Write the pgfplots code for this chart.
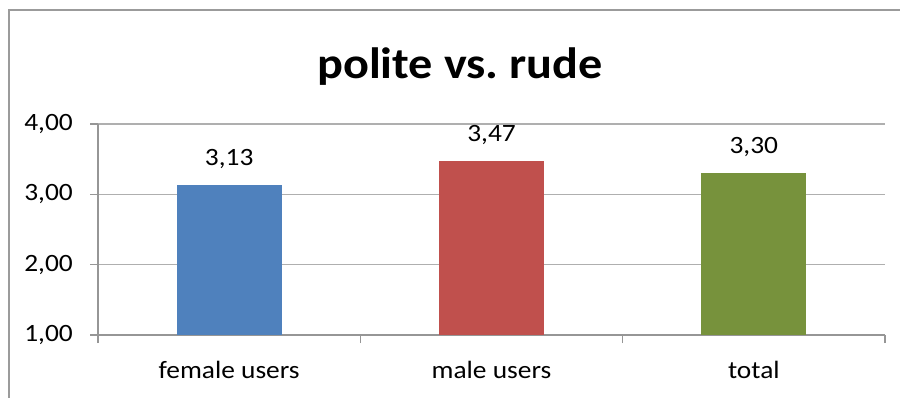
\documentclass[border=0pt]{standalone}
\usepackage{fontspec}
\setmainfont{Carlito}[FakeStretch=1.1]
\usepackage{pgfplots}
\pgfplotsset{compat=1.18}

\definecolor{barblue}{RGB}{79,129,189}
\definecolor{barred}{RGB}{192,80,77}
\definecolor{bargreen}{RGB}{119,146,60}
\definecolor{framegray}{RGB}{155,155,155}
\definecolor{axisgray}{RGB}{150,150,150}
\definecolor{gridgray}{RGB}{175,175,175}

\begin{document}
\begin{tikzpicture}[x=1bp,y=1bp]
\useasboundingbox (0,0) rectangle (900,397);
% chart frame
\begin{scope}
  \clip (0,0) rectangle (900,397);
  \draw[line width=2bp, framegray] (8.5,-50) -- (8.5,386.5) -- (950,386.5);
\end{scope}
% title
\node[font=\fontsize{44}{52}\selectfont\bfseries, anchor=base, inner sep=0pt]
  at (460,319) {polite vs.\ rude};
\begin{axis}[
  at={(98bp,62bp)}, anchor=south west,
  scale only axis, width=787bp, height=211bp,
  xmin=-0.5, xmax=2.5, ymin=1, ymax=4,
  axis x line*=bottom, axis y line*=left,
  axis line style={axisgray, line width=1.5bp},
  ybar=0pt, bar width=105bp, bar shift=0pt,
  ytick={1,2,3,4},
  xtick={-0.5,0.5,1.5,2.5}, xticklabels={},
  extra x ticks={0,1,2},
  extra x tick labels={female users, male users, total},
  extra x tick style={major tick length=0pt, grid=none},
  tick align=outside, major tick length=8bp,
  tick style={axisgray, line width=1.5bp},
  ymajorgrids, grid style={gridgray, line width=1.5bp},
  tick label style={font=\fontsize{25}{30}\selectfont, text=black},
  yticklabel style={inner sep=0pt, xshift=-17bp,
    /pgf/number format/.cd, fixed, fixed zerofill, precision=2, use comma, assume math mode=true},
  xticklabel style={anchor=base, inner sep=0pt, yshift=-43bp},
  nodes near coords,
  nodes near coords style={font=\fontsize{25}{30}\selectfont, anchor=base, yshift=20bp, inner sep=0pt,
    /pgf/number format/.cd, fixed, fixed zerofill, precision=2, use comma, assume math mode=true},
  point meta=y,
  clip=false,
]
\addplot[fill=barblue, draw=none] coordinates {(0,3.13)};
\addplot[fill=barred, draw=none] coordinates {(1,3.47)};
\addplot[fill=bargreen, draw=none] coordinates {(2,3.30)};
\end{axis}
\end{tikzpicture}
\end{document}
